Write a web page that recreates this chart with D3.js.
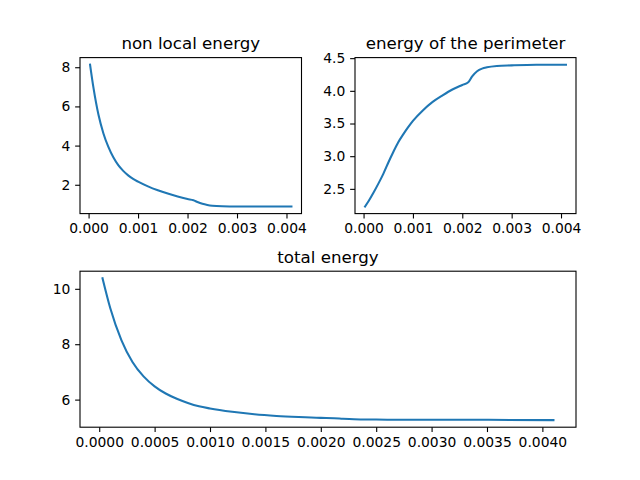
<!DOCTYPE html>
<html>
<head>
<meta charset="utf-8">
<script src="https://cdn.jsdelivr.net/npm/d3@7"></script>
<style>
    body { margin: 0; background: #fff; }
    svg { display: block; font-family: "DejaVu Sans", sans-serif; }
</style>
</head>
<body>
<div id="chart"></div>
<script>
// time steps (shared by all three series)
const times = [0.00003, 0.0001, 0.0002, 0.0003, 0.0004, 0.0005, 0.0006, 0.0007, 0.0008, 0.0009,
    0.001, 0.0012, 0.0014, 0.0016, 0.0018, 0.002, 0.00212, 0.0022, 0.0023, 0.0024,
    0.0025, 0.0027, 0.003, 0.0035, 0.0041];

const nonLocalEnergy = [8.13, 6.93, 5.57, 4.62, 3.93, 3.40, 3.00, 2.71, 2.48, 2.30,
    2.16, 1.92, 1.72, 1.55, 1.40, 1.27, 1.21, 1.12, 1.03, 0.97,
    0.93, 0.90, 0.89, 0.89, 0.89];

const perimeterEnergy = [2.23, 2.31, 2.44, 2.58, 2.73, 2.90, 3.06, 3.21, 3.33, 3.44,
    3.54, 3.70, 3.83, 3.93, 4.02, 4.09, 4.13, 4.22, 4.30, 4.34,
    4.36, 4.38, 4.39, 4.40, 4.40];

const totalEnergy = [10.38, 9.30, 8.15, 7.36, 6.84, 6.48, 6.22, 6.03, 5.88, 5.76,
    5.68, 5.56, 5.47, 5.41, 5.37, 5.34, 5.33, 5.31, 5.29, 5.28,
    5.28, 5.27, 5.27, 5.27, 5.26];

// tick labels
const xTicksSmall = [0, 0.001, 0.002, 0.003, 0.004];
const xTicksWide = [0, 0.0005, 0.001, 0.0015, 0.002, 0.0025, 0.003, 0.0035, 0.004];
const yTicksNonLocal = [2, 4, 6, 8];
const yTicksPerimeter = [2.5, 3.0, 3.5, 4.0, 4.5];
const yTicksTotal = [6, 8, 10];

const width = 640, height = 480;
const tickLen = 4.86, tickPad = 4.86, fontSize = 13.89;

const svg = d3.select("#chart")
    .append("svg")
    .attr("width", width)
    .attr("height", height);

// matplotlib style 5% margins
function padded(extent) {
    const r = extent[1] - extent[0];
    return [extent[0] - 0.05 * r, extent[1] + 0.05 * r];
}

function drawPanel(box, values, title, xTicks, xFmt, yTicks, yFmt) {
    const x = d3.scaleLinear()
        .domain(padded(d3.extent(times)))
        .range([box.left, box.left + box.w]);
    const y = d3.scaleLinear()
        .domain(padded(d3.extent(values)))
        .range([box.top + box.h, box.top]);

    const g = svg.append("g");

    // line
    g.append("path")
        .datum(times.map((t, i) => [t, values[i]]))
        .attr("d", d3.line()
            .x(d => x(d[0]))
            .y(d => y(d[1]))
            .curve(d3.curveMonotoneX))
        .attr("fill", "none")
        .attr("stroke", "#1f77b4")
        .attr("stroke-width", 2.08)
        .attr("stroke-linecap", "square");

    // x axis
    const xAxis = g.append("g")
        .attr("transform", "translate(0," + (box.top + box.h) + ")")
        .call(d3.axisBottom(x)
            .tickValues(xTicks)
            .tickFormat(d3.format(xFmt))
            .tickSize(tickLen)
            .tickSizeOuter(0)
            .tickPadding(tickPad));

    // y axis
    const yAxis = g.append("g")
        .attr("transform", "translate(" + box.left + ",0)")
        .call(d3.axisLeft(y)
            .tickValues(yTicks)
            .tickFormat(d3.format(yFmt))
            .tickSize(tickLen)
            .tickSizeOuter(0)
            .tickPadding(tickPad));

    [xAxis, yAxis].forEach(a => {
        a.select(".domain").remove();
        a.selectAll("line").attr("stroke", "#000").attr("stroke-width", 1.1);
        a.selectAll("text")
            .attr("fill", "#000")
            .style("font-size", fontSize + "px")
            .style("font-family", "DejaVu Sans, sans-serif");
    });

    // frame
    g.append("rect")
        .attr("x", box.left)
        .attr("y", box.top)
        .attr("width", box.w)
        .attr("height", box.h)
        .attr("fill", "none")
        .attr("stroke", "#000")
        .attr("stroke-width", 1.1);

    // title
    g.append("text")
        .attr("x", box.left + box.w / 2)
        .attr("y", box.top - 8.3)
        .attr("text-anchor", "middle")
        .style("font-size", "16.67px")
        .text(title);
}

drawPanel({left: 80, top: 57.6, w: 221.5, h: 156},
    nonLocalEnergy, "non local energy", xTicksSmall, ".3f", yTicksNonLocal, "d");
drawPanel({left: 355, top: 57.6, w: 221, h: 156},
    perimeterEnergy, "energy of the perimeter", xTicksSmall, ".3f", yTicksPerimeter, ".1f");
drawPanel({left: 80, top: 271.2, w: 496, h: 156},
    totalEnergy, "total energy", xTicksWide, ".4f", yTicksTotal, "d");
</script>
</body>
</html>
